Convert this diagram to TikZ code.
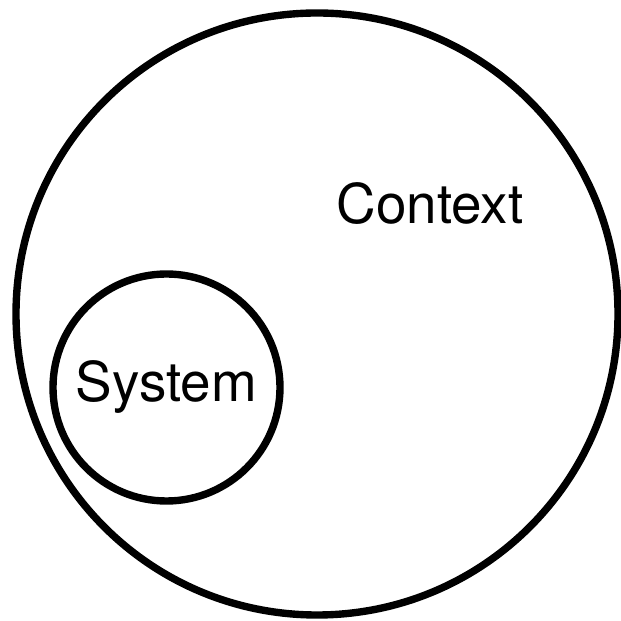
\documentclass[tikz,border=0pt]{standalone}
\usepackage{fontspec}
\setmainfont{TeX Gyre Heros}
\begin{document}
\begin{tikzpicture}[
    ctxCircleStyle/.style={draw, circle, line width=2.1pt, inner sep=0pt},
    ctxLabelStyle/.style={font=\fontsize{15.6}{18}\selectfont}
]
    % 画布大小
    \useasboundingbox (0,0) rectangle (6.21,6.21);

    % 外圆：环境
    \node[ctxCircleStyle, minimum size=6.02cm] (context) at (3.17,3.07) {};
    \node[ctxLabelStyle] (contextLabel) at (4.30,4.17) {Context};

    % 内圆：系统
    \node[ctxCircleStyle, ctxLabelStyle, minimum size=2.27cm] (system) at (1.665,2.335) {System};
\end{tikzpicture}
\end{document}
